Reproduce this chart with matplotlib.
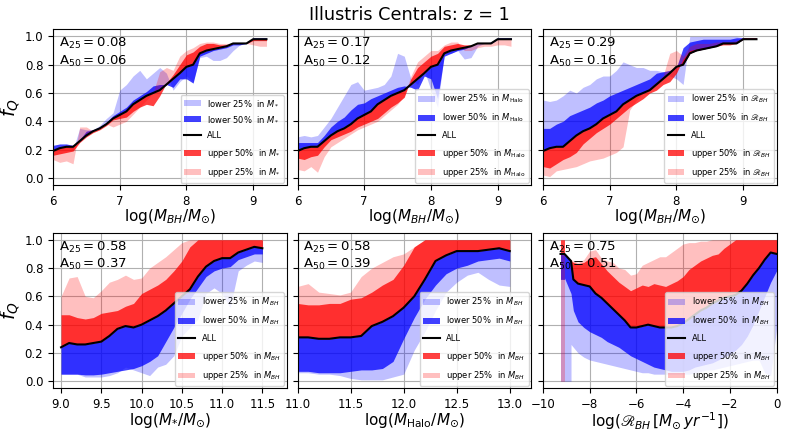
import numpy as np
import matplotlib
matplotlib.use("Agg")
import matplotlib.pyplot as plt

# ---------------- data ----------------
# Top row: x = log(M_BH/Msun)
x_bh = [6.0, 6.1, 6.2, 6.3, 6.4, 6.5, 6.6, 6.7, 6.8, 6.9, 7.0, 7.1, 7.2, 7.3, 7.4, 7.5,
        7.6, 7.7, 7.8, 7.9, 8.0, 8.1, 8.2, 8.3, 8.4, 8.5, 8.6, 8.7, 8.8, 8.9, 9.0, 9.1, 9.2]
all_bh = [0.19, 0.21, 0.22, 0.22, 0.26, 0.30, 0.33, 0.35, 0.38, 0.42, 0.445, 0.47, 0.52, 0.55, 0.58, 0.60,
          0.62, 0.66, 0.70, 0.74, 0.785, 0.80, 0.88, 0.90, 0.91, 0.92, 0.93, 0.95, 0.95, 0.95, 0.98, 0.98, 0.98]

# panel 1: split in M*
p1_lo25 = [0.21, 0.22, 0.22, 0.20, 0.35, 0.34, 0.34, 0.37, 0.42, 0.46, 0.62, 0.66, 0.72, 0.76, 0.70, 0.74,
           0.78, 0.74, 0.62, 0.68, 0.72, 0.68, 0.85, 0.86, 0.83, 0.83, 0.85, 0.90, 0.94, 0.96, 0.99, 0.99, 0.99]
p1_lo50 = [0.23, 0.24, 0.24, 0.23, 0.27, 0.33, 0.34, 0.36, 0.39, 0.44, 0.47, 0.50, 0.55, 0.58, 0.61, 0.65,
           0.66, 0.66, 0.64, 0.70, 0.70, 0.67, 0.86, 0.88, 0.90, 0.91, 0.92, 0.94, 0.94, 0.95, 0.99, 0.99, 0.99]
p1_up50 = [0.16, 0.17, 0.18, 0.19, 0.25, 0.29, 0.32, 0.34, 0.37, 0.41, 0.42, 0.43, 0.47, 0.50, 0.52, 0.51,
           0.58, 0.67, 0.73, 0.80, 0.87, 0.89, 0.93, 0.95, 0.95, 0.94, 0.94, 0.95, 0.95, 0.95, 0.97, 0.97, 0.97]
p1_up25 = [0.13, 0.11, 0.12, 0.10, 0.36, 0.36, 0.33, 0.35, 0.38, 0.36, 0.38, 0.40, 0.45, 0.50, 0.55, 0.60,
           0.75, 0.78, 0.76, 0.86, 0.90, 0.92, 0.95, 0.96, 0.96, 0.95, 0.95, 0.95, 0.95, 0.95, 0.94, 0.93, 0.93]

# panel 2: split in M_Halo
p2_lo25 = [0.29, 0.30, 0.29, 0.30, 0.36, 0.42, 0.50, 0.58, 0.66, 0.68, 0.62, 0.63, 0.64, 0.66, 0.72, 0.88,
           0.86, 0.70, 0.66, 0.76, 0.62, 0.50, 0.88, 0.88, 0.90, 0.84, 0.85, 0.93, 0.95, 0.96, 0.99, 0.99, 0.99]
p2_lo50 = [0.25, 0.25, 0.25, 0.25, 0.30, 0.36, 0.40, 0.43, 0.48, 0.52, 0.53, 0.56, 0.58, 0.60, 0.62, 0.64,
           0.65, 0.64, 0.62, 0.72, 0.70, 0.56, 0.86, 0.88, 0.90, 0.91, 0.93, 0.95, 0.95, 0.96, 0.99, 0.99, 0.99]
p2_up50 = [0.14, 0.13, 0.15, 0.16, 0.22, 0.27, 0.29, 0.31, 0.33, 0.36, 0.38, 0.40, 0.42, 0.46, 0.50, 0.53,
           0.57, 0.70, 0.78, 0.82, 0.86, 0.88, 0.93, 0.94, 0.95, 0.94, 0.94, 0.95, 0.95, 0.95, 0.98, 0.98, 0.98]
p2_up25 = [0.06, 0.05, 0.08, 0.04, 0.15, 0.22, 0.25, 0.28, 0.31, 0.34, 0.36, 0.38, 0.40, 0.44, 0.48, 0.52,
           0.58, 0.72, 0.82, 0.86, 0.90, 0.90, 0.94, 0.96, 0.96, 0.90, 0.90, 0.92, 0.93, 0.93, 0.94, 0.94, 0.93]

# panel 3: split in R_BH
p3_lo25 = [0.55, 0.54, 0.55, 0.58, 0.62, 0.60, 0.64, 0.66, 0.70, 0.72, 0.72, 0.76, 0.82, 0.80, 0.78, 0.78,
           0.76, 0.76, 0.75, 0.72, 0.70, 0.66, 1.00, 1.00, 1.00, 1.00, 1.00, 1.00, 1.00, 1.00, 0.99, 0.99, 0.99]
p3_lo50 = [0.35, 0.35, 0.38, 0.40, 0.44, 0.46, 0.48, 0.50, 0.53, 0.55, 0.58, 0.60, 0.62, 0.64, 0.66, 0.68,
           0.70, 0.74, 0.75, 0.76, 0.78, 0.92, 0.96, 0.97, 0.98, 0.98, 0.98, 0.98, 0.98, 0.99, 0.99, 0.99, 0.99]
p3_up50 = [0.08, 0.07, 0.10, 0.13, 0.15, 0.18, 0.24, 0.28, 0.32, 0.35, 0.38, 0.42, 0.46, 0.50, 0.53, 0.56,
           0.60, 0.62, 0.66, 0.68, 0.74, 0.84, 0.90, 0.91, 0.92, 0.92, 0.93, 0.94, 0.94, 0.95, 0.99, 0.99, 0.99]
p3_up25 = [0.02, 0.01, 0.05, 0.06, 0.07, 0.08, 0.10, 0.12, 0.13, 0.14, 0.16, 0.18, 0.22, 0.48, 0.55, 0.60,
           0.64, 0.68, 0.72, 0.88, 0.90, 0.86, 0.93, 0.95, 0.95, 0.95, 0.96, 0.96, 0.96, 0.97, 0.99, 0.99, 0.99]

# panel 4: x = log(M*/Msun), split in M_BH
x_ms = [9.0, 9.1, 9.2, 9.3, 9.4, 9.5, 9.6, 9.7, 9.8, 9.9, 10.0, 10.1, 10.2, 10.3, 10.4, 10.5,
        10.6, 10.7, 10.8, 10.9, 11.0, 11.1, 11.2, 11.3, 11.4, 11.5]
p4_all = [0.24, 0.27, 0.26, 0.26, 0.27, 0.28, 0.32, 0.37, 0.39, 0.38, 0.40, 0.43, 0.46, 0.50, 0.55, 0.60,
          0.65, 0.74, 0.81, 0.85, 0.87, 0.87, 0.91, 0.93, 0.95, 0.94]
p4_lo25 = [0.05, 0.05, 0.05, 0.03, 0.03, 0.03, 0.04, 0.06, 0.10, 0.08, 0.06, 0.04, 0.10, 0.12, 0.18, 0.32,
           0.38, 0.44, 0.62, 0.66, 0.62, 0.52, 0.78, 0.82, 0.85, 0.84]
p4_lo50 = [0.05, 0.05, 0.05, 0.045, 0.045, 0.05, 0.06, 0.07, 0.08, 0.09, 0.11, 0.14, 0.18, 0.28, 0.38, 0.48,
           0.58, 0.66, 0.74, 0.78, 0.80, 0.81, 0.86, 0.88, 0.90, 0.90]
p4_up50 = [0.47, 0.47, 0.45, 0.44, 0.45, 0.48, 0.49, 0.50, 0.53, 0.55, 0.62, 0.65, 0.68, 0.72, 0.78, 0.85,
           0.95, 1.00, 1.00, 1.00, 1.00, 1.00, 1.00, 1.00, 1.00, 1.00]
p4_up25 = [0.60, 0.73, 0.74, 0.60, 0.59, 0.64, 0.70, 0.72, 0.75, 0.72, 0.73, 0.80, 0.84, 0.88, 0.93, 0.98,
           1.00, 1.00, 1.00, 1.00, 1.00, 1.00, 1.00, 1.00, 1.00, 1.00]

# panel 5: x = log(M_Halo/Msun), split in M_BH
x_mh = [11.0, 11.1, 11.2, 11.3, 11.4, 11.5, 11.6, 11.7, 11.8, 11.9, 12.0, 12.1, 12.2, 12.3, 12.4, 12.5,
        12.6, 12.7, 12.8, 12.9, 13.0]
p5_all = [0.31, 0.31, 0.30, 0.30, 0.31, 0.31, 0.32, 0.39, 0.42, 0.46, 0.52, 0.60, 0.72, 0.85, 0.89, 0.92,
          0.92, 0.92, 0.93, 0.94, 0.92]
p5_lo25 = [0.06, 0.06, 0.05, 0.05, 0.04, 0.02, 0.01, 0.01, 0.01, 0.03, 0.05, 0.22, 0.35, 0.50, 0.63, 0.70,
           0.75, 0.77, 0.72, 0.68, 0.67]
p5_lo50 = [0.07, 0.07, 0.06, 0.06, 0.06, 0.07, 0.08, 0.08, 0.09, 0.14, 0.30, 0.45, 0.58, 0.68, 0.76, 0.80,
           0.82, 0.85, 0.86, 0.87, 0.85]
p5_up50 = [0.55, 0.54, 0.54, 0.55, 0.55, 0.58, 0.59, 0.63, 0.68, 0.72, 0.82, 0.95, 1.00, 1.00, 1.00, 1.00,
           1.00, 1.00, 1.00, 1.00, 1.00]
p5_up25 = [0.67, 0.69, 0.63, 0.62, 0.61, 0.63, 0.74, 0.80, 0.84, 0.88, 0.90, 0.95, 1.00, 1.00, 1.00, 1.00,
           1.00, 1.00, 1.00, 1.00, 1.00]

# panel 6: x = log(R_BH), split in M_BH
x_rb = [-9.25, -9.08, -9.08, -8.8, -8.8, -8.7, -8.5, -8.25, -8.0, -7.75, -7.5, -7.25, -7.0, -6.75,
        -6.5, -6.25, -6.0, -5.75, -5.5, -5.25, -5.0, -4.75, -4.5, -4.25, -4.0, -3.75, -3.5, -3.25,
        -3.0, -2.75, -2.5, -2.25, -2.0, -1.75, -1.5, -1.25, -1.0, -0.75, -0.5, -0.25, 0.0]
p6_all = [0.90, 0.90, 0.90, 0.85, 0.85, 0.72, 0.69, 0.68, 0.67, 0.62, 0.59, 0.55, 0.51, 0.47,
          0.43, 0.38, 0.38, 0.39, 0.40, 0.39, 0.38, 0.38, 0.38, 0.39, 0.41, 0.44, 0.47, 0.50,
          0.52, 0.55, 0.57, 0.59, 0.60, 0.61, 0.64, 0.69, 0.75, 0.80, 0.86, 0.91, 0.90]
p6_lo25 = [0.00, 0.00, 0.00, 0.00, 0.26, 0.24, 0.20, 0.17, 0.15, 0.14, 0.13, 0.12, 0.11, 0.10,
           0.09, 0.08, 0.07, 0.06, 0.06, 0.05, 0.05, 0.05, 0.05, 0.05, 0.05, 0.05, 0.06, 0.07,
           0.08, 0.08, 0.09, 0.10, 0.11, 0.12, 0.13, 0.14, 0.15, 0.15, 0.06, 0.04, 0.37]
p6_lo50 = [0.72, 0.72, 0.73, 0.62, 0.62, 0.50, 0.42, 0.38, 0.35, 0.33, 0.31, 0.28, 0.26, 0.24,
           0.21, 0.18, 0.16, 0.14, 0.12, 0.10, 0.09, 0.08, 0.07, 0.07, 0.07, 0.08, 0.10, 0.11,
           0.12, 0.13, 0.15, 0.17, 0.19, 0.22, 0.26, 0.32, 0.40, 0.50, 0.60, 0.70, 0.78]
p6_up50 = [1.00, 1.00, 0.90, 0.85, 0.85, 0.84, 0.83, 0.84, 0.87, 0.88, 0.83, 0.78, 0.74, 0.70,
           0.67, 0.64, 0.66, 0.68, 0.67, 0.69, 0.68, 0.67, 0.69, 0.71, 0.74, 0.79, 0.82, 0.85,
           0.87, 0.89, 0.90, 0.94, 0.97, 1.00, 1.00, 1.00, 1.00, 1.00, 1.00, 1.00, 1.00]
p6_up25 = [0.00, 0.00, 0.90, 0.86, 0.86, 0.85, 0.84, 0.86, 0.92, 0.93, 0.87, 0.85, 0.84, 0.80,
           0.79, 0.75, 0.76, 0.82, 0.84, 0.86, 0.88, 0.88, 0.91, 0.94, 0.97, 0.98, 0.98, 0.99,
           0.99, 1.00, 1.00, 1.00, 1.00, 1.00, 1.00, 1.00, 1.00, 1.00, 1.00, 1.00, 1.00]

a25 = [0.08, 0.17, 0.29, 0.58, 0.58, 0.75]
a50 = [0.06, 0.12, 0.16, 0.37, 0.39, 0.51]

split_names = [r'$M_{*}$', r'$M_{\rm Halo}$', r'$\mathscr{R}_{BH}$',
               r'$M_{BH}$', r'$M_{BH}$', r'$M_{BH}$']
xlabels = [r'log($M_{BH}/M_{\odot}$)', r'log($M_{BH}/M_{\odot}$)', r'log($M_{BH}/M_{\odot}$)',
           r'log($M_{*}/M_{\odot}$)', r'log($M_{\rm Halo}/M_{\odot}$)',
           r'log($\mathscr{R}_{BH}\,[M_{\odot}\,yr^{-1}]$)']

panels = [
    (x_bh, all_bh, p1_lo25, p1_lo50, p1_up50, p1_up25),
    (x_bh, all_bh, p2_lo25, p2_lo50, p2_up50, p2_up25),
    (x_bh, all_bh, p3_lo25, p3_lo50, p3_up50, p3_up25),
    (x_ms, p4_all, p4_lo25, p4_lo50, p4_up50, p4_up25),
    (x_mh, p5_all, p5_lo25, p5_lo50, p5_up50, p5_up25),
    (x_rb, p6_all, p6_lo25, p6_lo50, p6_up50, p6_up25),
]

xlims = [(6, 9.5), (6, 9.5), (6, 9.5), (8.9, 11.8), (11.0, 13.2), (-10, 0)]
xticks = [[6, 7, 8, 9], [6, 7, 8, 9], [6, 7, 8, 9],
          [9.0, 9.5, 10.0, 10.5, 11.0, 11.5],
          [11.0, 11.5, 12.0, 12.5, 13.0],
          [-10, -8, -6, -4, -2, 0]]

# ---------------- figure ----------------
fig = plt.figure(figsize=(7.89, 4.34), dpi=100)
W, H = 789.0, 434.0
lefts = [53, 297.5, 543]
pw = 233.5
rows = [(29.3, 185.0), (232.7, 388.3)]

axes = []
for r, (top, bot) in enumerate(rows):
    for c in range(3):
        ax = fig.add_axes([lefts[c] / W, 1 - bot / H, pw / W, (bot - top) / H])
        axes.append(ax)

for i, ax in enumerate(axes):
    x, av, lo25, lo50, up50, up25 = panels[i]
    x = np.asarray(x)
    nm = split_names[i]
    ax.fill_between(x, av, lo25, color='blue', alpha=0.25, lw=0,
                    label='lower 25%  in ' + nm)
    ax.fill_between(x, av, lo50, color='blue', alpha=0.75, lw=0,
                    label='lower 50%  in ' + nm)
    ax.plot(x, av, color='black', lw=1.5, label='ALL', zorder=3)
    ax.fill_between(x, av, up50, color='red', alpha=0.75, lw=0,
                    label='upper 50%  in ' + nm)
    ax.fill_between(x, av, up25, color='red', alpha=0.25, lw=0,
                    label='upper 25%  in ' + nm)
    ax.set_xlim(*xlims[i])
    ax.set_ylim(-0.05, 1.05)
    ax.set_xticks(xticks[i])
    ax.set_yticks([0.0, 0.2, 0.4, 0.6, 0.8, 1.0])
    ax.grid(True, color='#b0b0b0', lw=0.8)
    ax.set_axisbelow(True)
    ax.tick_params(labelsize=8.5)
    if i % 3 == 0:
        ax.set_ylabel(r'$f_Q$', fontsize=14, labelpad=2)
    else:
        ax.set_yticklabels([])
    ax.set_xlabel(xlabels[i], fontsize=11, labelpad=0)
    ax.text(0.025, 0.955, 'A$_{25}=%.2f$\nA$_{50}=%.2f$' % (a25[i], a50[i]),
            transform=ax.transAxes, va='top', ha='left', fontsize=9.5, zorder=5)
    ax.legend(loc='lower right', fontsize=6, borderaxespad=0.3, handlelength=2.0,
              labelspacing=0.8)

fig.text(409 / W, 1 - 15.5 / H, 'Illustris Centrals: z = 1', ha='center', va='center', fontsize=12.7)

fig.savefig('out.png', dpi=100)
